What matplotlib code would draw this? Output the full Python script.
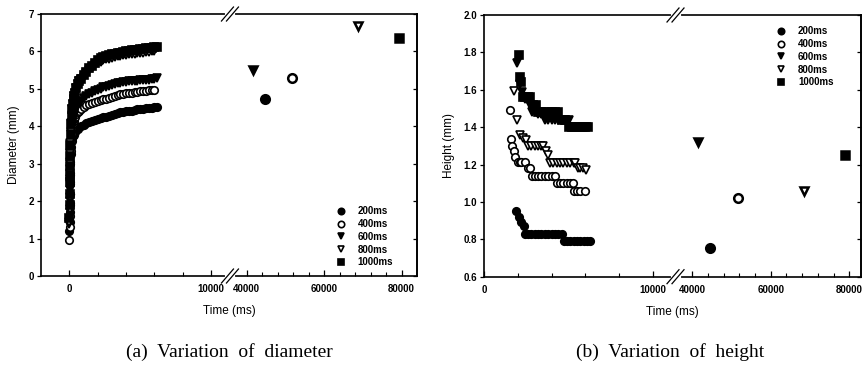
import matplotlib
matplotlib.use('Agg')
import matplotlib.pyplot as plt
import numpy as np
from matplotlib.scale import FuncScale

# ---- data: diameter (a) ----
t_diam = [0, 10, 20, 30, 40, 50, 60, 80, 100, 130, 160, 200, 250, 300, 350, 400,
          500, 600, 700, 800, 1000, 1200, 1400, 1600, 1800, 2000, 2200, 2400, 2600,
          2800, 3000, 3200, 3400, 3600, 3800, 4000, 4200, 4400, 4600, 4800, 5000,
          5200, 5400, 5600, 5800, 6000, 6200]
d_200 = [1.2, 1.45, 1.7, 1.95, 2.2, 2.45, 2.7, 3.0, 3.25, 3.45, 3.6, 3.7, 3.75, 3.78,
         3.81, 3.84, 3.9, 3.94, 3.97, 4.0, 4.04, 4.08, 4.12, 4.15, 4.18, 4.2, 4.22,
         4.24, 4.26, 4.28, 4.3, 4.33, 4.35, 4.37, 4.38, 4.4, 4.41, 4.42, 4.43, 4.45,
         4.46, 4.47, 4.48, 4.49, 4.5, 4.51, 4.52]
d_400 = [0.95, 1.3, 1.6, 1.9, 2.2, 2.5, 2.75, 3.05, 3.35, 3.6, 3.8, 3.95, 4.05, 4.13,
         4.2, 4.25, 4.33, 4.38, 4.42, 4.46, 4.52, 4.56, 4.6, 4.63, 4.66, 4.68, 4.7,
         4.72, 4.74, 4.76, 4.79, 4.82, 4.84, 4.85, 4.87, 4.88, 4.89, 4.9, 4.91, 4.92,
         4.93, 4.94, 4.95, 4.96, 4.96, 4.97, np.nan]
d_600 = [1.4, 1.7, 2.0, 2.3, 2.6, 2.85, 3.05, 3.3, 3.55, 3.8, 3.98, 4.1, 4.2, 4.28,
         4.35, 4.4, 4.5, 4.57, 4.63, 4.68, 4.75, 4.81, 4.86, 4.9, 4.94, 4.98, 5.01,
         5.04, 5.06, 5.08, 5.11, 5.13, 5.15, 5.16, 5.18, 5.19, 5.2, 5.21, 5.22, 5.22,
         5.23, 5.24, 5.25, 5.25, 5.26, 5.27, 5.28]
d_800 = [1.43, 1.8, 2.1, 2.45, 2.75, 3.0, 3.25, 3.55, 3.85, 4.1, 4.3, 4.45, 4.6, 4.72,
         4.82, 4.9, 5.02, 5.12, 5.2, 5.27, 5.33, 5.42, 5.5, 5.57, 5.64, 5.69, 5.73,
         5.76, 5.79, 5.81, 5.83, 5.85, 5.87, 5.88, 5.9, 5.91, 5.92, 5.93, 5.94, 5.95,
         5.96, 5.97, 5.98, 5.99, 6.0, 6.01, np.nan]
d_1000 = [1.55, 1.9, 2.2, 2.5, 2.7, 2.95, 3.2, 3.5, 3.8, 4.05, 4.25, 4.45, 4.6, 4.72,
          4.82, 4.9, 5.02, 5.13, 5.21, 5.27, 5.38, 5.46, 5.55, 5.62, 5.7, 5.77, 5.82,
          5.85, 5.88, 5.9, 5.92, 5.94, 5.95, 5.97, 5.98, 6.0, 6.01, 6.03, 6.04, 6.05,
          6.06, 6.07, 6.08, 6.09, 6.1, 6.11, 6.13]
# final (long time) points, order 200/400/600/800/1000
t_end_d = [44770, 51800, 41750, 68700, 79400]
d_end = [4.72, 5.28, 5.50, 6.68, 6.35]

# ---- data: height (b) ----
t_h200 = [1900, 2060, 2200, 2360, 2450, 2600, 2800, 3000, 3200, 3400, 3600, 3800,
          4000, 4200, 4400, 4600, 4750, 4900, 5100, 5300, 5500, 5700, 5900, 6100, 6250]
h_200 = [0.95, 0.92, 0.89, 0.87, 0.83, 0.83, 0.83, 0.83, 0.83, 0.83, 0.83, 0.83,
         0.83, 0.83, 0.83, 0.83, 0.79, 0.79, 0.79, 0.79, 0.79, 0.79, 0.79, 0.79, 0.79]
t_h400 = [1510, 1570, 1660, 1760, 1860, 2000, 2100, 2200, 2400, 2600, 2700, 2830,
          3000, 3200, 3400, 3600, 3800, 4000, 4200, 4300, 4500, 4700, 4900, 5100,
          5250, 5350, 5500, 5700, 5950]
h_400 = [1.49, 1.335, 1.30, 1.27, 1.24, 1.215, 1.215, 1.215, 1.215, 1.18, 1.18, 1.14,
         1.14, 1.14, 1.14, 1.14, 1.14, 1.14, 1.14, 1.10, 1.10, 1.10, 1.10, 1.10,
         1.10, 1.06, 1.06, 1.06, 1.06]
t_h600 = [1950, 2150, 2250, 2400, 2550, 2700, 2850, 3000, 3200, 3400, 3600, 3800,
          4000, 4200, 4400, 4600, 4800, 5000, 5100, 5300, 5500, 5700, 5900, 6100]
h_600 = [1.745, 1.63, 1.59, 1.55, 1.55, 1.52, 1.48, 1.48, 1.47, 1.47, 1.44, 1.44,
         1.44, 1.44, 1.44, 1.44, 1.44, 1.44, 1.40, 1.40, 1.40, 1.40, 1.40, 1.40]
t_h800 = [1760, 1960, 2140, 2300, 2500, 2600, 2800, 3000, 3200, 3400, 3500, 3650,
          3790, 3900, 4100, 4300, 4500, 4700, 4900, 5100, 5300, 5400, 5550, 5700,
          5850, 6050]
h_800 = [1.595, 1.44, 1.36, 1.34, 1.33, 1.30, 1.30, 1.30, 1.30, 1.30, 1.30, 1.27,
         1.25, 1.21, 1.21, 1.21, 1.21, 1.21, 1.21, 1.21, 1.21, 1.21, 1.18, 1.18,
         1.18, 1.17]
t_h1000 = [2050, 2100, 2200, 2300, 2450, 2600, 2750, 2900, 3050, 3200, 3400, 3600,
           3800, 4000, 4200, 4400, 4600, 4800, 5000, 5200, 5400, 5600, 5800, 6000, 6150]
h_1000 = [1.785, 1.67, 1.64, 1.56, 1.56, 1.56, 1.56, 1.52, 1.52, 1.48, 1.48, 1.48,
          1.48, 1.48, 1.48, 1.48, 1.44, 1.44, 1.40, 1.40, 1.40, 1.40, 1.40, 1.40, 1.40]
t_end_h = [44440, 51540, 41540, 68360, 79050]
h_end = [0.755, 1.02, 1.32, 1.06, 1.25]

labels = ['200ms', '400ms', '600ms', '800ms', '1000ms']
markers = ['o', 'o', 'v', 'v', 's']
faces = ['black', 'white', 'black', 'white', 'black']

plt.rcParams['font.family'] = 'Liberation Sans'


def broken_scale(ax, t1, t2, r):
    # squeeze the gap between t1 and t2, compress the long-time part by r
    def fwd(t):
        t = np.asarray(t, dtype=float)
        return np.where(t <= t1, t, np.where(t >= t2, t1 + (t - t2) * r, t1))

    def inv(u):
        u = np.asarray(u, dtype=float)
        return np.where(u <= t1, u, t2 + (u - t1) / r)
    ax.set_xscale(FuncScale(ax, (fwd, inv)))


def break_marks(ax, t1):
    xb = ax.transAxes.inverted().transform(ax.transData.transform((t1, 0)))[0]
    bb = ax.get_window_extent()
    W, H = bb.width, bb.height
    for y0 in (0, 1):
        ax.plot([xb - 3 / W, xb + 3 / W], [y0, y0], color='white', lw=3,
                transform=ax.transAxes, clip_on=False, zorder=5)
        for off in (-2.5, 2.5):
            ax.plot([xb + (off - 6) / W, xb + (off + 6) / W],
                    [y0 - 7 / H, y0 + 7 / H], color='black', lw=0.9,
                    transform=ax.transAxes, clip_on=False, zorder=6)


def style_axes(ax, yticks, yfmt, minor_x):
    ax.set_xticks([0, 10000, 40000, 60000, 80000])
    ax.set_xticklabels(['0', '10000', '40000', '60000', '80000'])
    ax.set_xticks(minor_x, minor=True)
    ax.tick_params(axis='x', which='major', direction='in', length=4, width=0.9,
                   labelsize=7, pad=6, top=False)
    ax.tick_params(axis='x', which='minor', direction='in', length=3, width=0.8,
                   top=False)
    ax.set_yticks(yticks)
    ax.set_yticklabels([yfmt.format(v) for v in yticks])
    ax.tick_params(axis='y', direction='out', length=3, width=0.9, labelsize=7,
                   pad=2)
    for lab in ax.get_xticklabels() + ax.get_yticklabels():
        lab.set_fontweight('bold')
    sec = ax.secondary_yaxis('right')
    sec.set_yticks(yticks)
    sec.tick_params(direction='in', length=3, width=0.9, labelright=False)
    sec.spines['right'].set_linewidth(1.2)
    for s in ax.spines.values():
        s.set_linewidth(1.2)


fig = plt.figure(figsize=(8.64, 3.78), dpi=100)
ax1 = fig.add_axes([0.0475, 0.2698, 0.4352, 0.6931])
ax2 = fig.add_axes([0.5602, 0.268, 0.4363, 0.6923])

# (a) diameter
broken_scale(ax1, 11340, 35700, 0.2735)
series_d = [d_200, d_400, d_600, d_800, d_1000]
handles = []
for i in range(5):
    h, = ax1.plot(t_diam, series_d[i], linestyle='none', marker=markers[i],
                  ms=5.4, mfc=faces[i], mec='black', mew=1.2, label=labels[i])
    handles.append(h)
    ax1.plot(t_end_d[i], d_end[i], linestyle='none', marker=markers[i], ms=6.2,
             mfc=faces[i], mec='black', mew=1.8)
ax1.set_xlim(-2000, 84000)
ax1.set_ylim(0, 7)
style_axes(ax1, list(range(8)), '{:d}',
           [2000, 4000, 6000, 8000, 44000, 48000, 52000, 56000, 64000, 68000,
            72000, 76000])
ax1.set_xlabel('Time (ms)', fontsize=8.5, labelpad=8)
ax1.set_ylabel('Diameter (mm)', fontsize=8.5, labelpad=6)
ax1.legend(handles=handles, loc='lower right', bbox_to_anchor=(0.96, 0.0),
           frameon=False, numpoints=1, markerscale=0.85, handlelength=1.0,
           handletextpad=1.2, labelspacing=0.28,
           prop={'family': 'Liberation Sans', 'weight': 'bold', 'size': 7})

# (b) height
broken_scale(ax2, 11330, 35700, 0.232)
series_h = [(t_h200, h_200), (t_h400, h_400), (t_h600, h_600), (t_h800, h_800),
            (t_h1000, h_1000)]
handles = []
for i in range(5):
    tt, hh = series_h[i]
    h, = ax2.plot(tt, hh, linestyle='none', marker=markers[i], ms=5.4,
                  mfc=faces[i], mec='black', mew=1.2, label=labels[i])
    handles.append(h)
    ax2.plot(t_end_h[i], h_end[i], linestyle='none', marker=markers[i], ms=6.2,
             mfc=faces[i], mec='black', mew=1.8)
ax2.set_xlim(0, 83000)
ax2.set_ylim(0.6, 2.0)
style_axes(ax2, [0.6, 0.8, 1.0, 1.2, 1.4, 1.6, 1.8, 2.0], '{:.1f}',
           [2000, 4000, 6000, 8000, 44000, 48000, 52000, 56000, 64000, 68000,
            72000, 76000])
ax2.set_xlabel('Time (ms)', fontsize=8.5, labelpad=8)
ax2.set_ylabel('Height (mm)', fontsize=8.5, labelpad=6)
ax2.legend(handles=handles, loc='upper right', bbox_to_anchor=(0.95, 0.99),
           frameon=False, numpoints=1, markerscale=0.85, handlelength=1.0,
           handletextpad=1.2, labelspacing=0.28,
           prop={'family': 'Liberation Sans', 'weight': 'bold', 'size': 7})

break_marks(ax1, 11340)
break_marks(ax2, 11330)

fig.text(0.265, 0.07, '(a)  Variation  of  diameter', family='Liberation Serif',
         fontsize=14, ha='center', va='center')
fig.text(0.776, 0.07, '(b)  Variation  of  height', family='Liberation Serif',
         fontsize=14, ha='center', va='center')

plt.savefig('out.png', dpi=100, facecolor='white')
plt.close()
